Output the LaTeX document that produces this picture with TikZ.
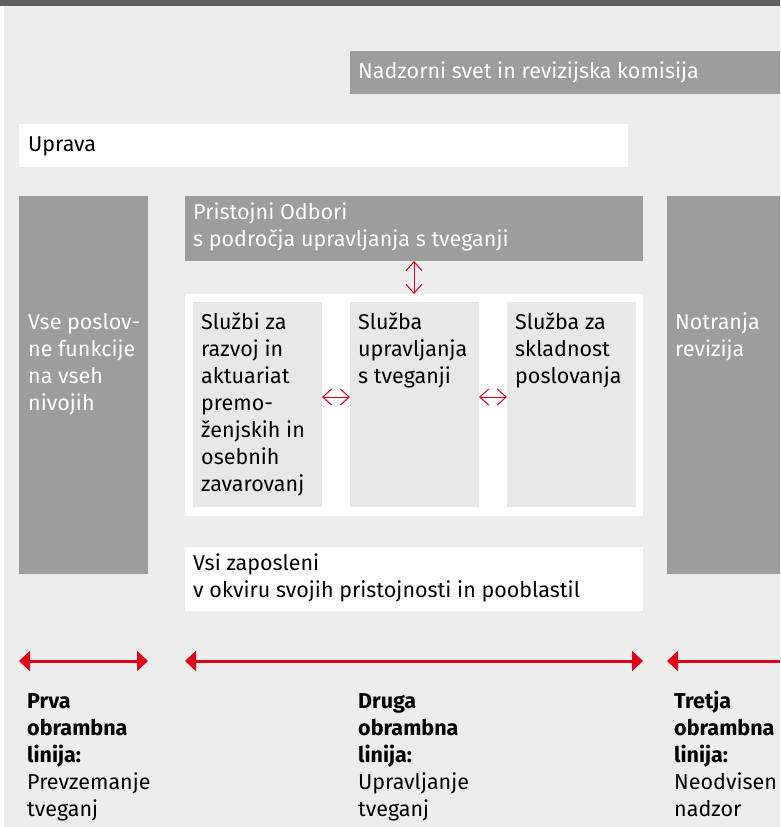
\documentclass[tikz,border=0pt]{standalone}
\usepackage{fontspec}
\setmainfont{Fira Sans}
\usetikzlibrary{arrows.meta}
\definecolor{Topcol}{HTML}{606060}
\definecolor{Bgcol}{HTML}{EDEDED}
\definecolor{Boxcol}{HTML}{9D9D9D}
\definecolor{Innercol}{HTML}{E8E8E8}
\definecolor{Arrcol}{HTML}{E2001A}
\tikzset{
    box/.style={anchor=north west, inner sep=0pt, outer sep=0pt, draw=none},
    graybox/.style={box, fill=Boxcol},
    whitebox/.style={box, fill=white},
    lightbox/.style={box, fill=Innercol},
    % base anchor = baseline of the last line
    txt/.style={anchor=base west, inner sep=0pt, align=left,
        font=\fontsize{21.5}{27}\selectfont},
    wtxt/.style={txt, text=white},
    thickarrow/.style={Arrcol, line width=3pt, {Triangle[length=11pt,width=20pt]}-{Triangle[length=11pt,width=20pt]}},
    thinarrow/.style={Arrcol, line width=1pt, {Straight Barb[length=9pt,width=16pt]}-{Straight Barb[length=9pt,width=16pt]}}
}

\begin{document}
\begin{tikzpicture}[x=1pt, y=-1pt]
    \useasboundingbox (0,0) rectangle (780,827);
    \fill [white] (0,0) rectangle (780,827);
    \fill [Bgcol] (4,6) rectangle (780,827);
    \fill [Topcol] (0,0) rectangle (780,6);

    % boxes
    \node [graybox, minimum width=430pt, minimum height=43pt] (nadzor) at (350,51) {};
    \node [whitebox, minimum width=609pt, minimum height=43pt] (uprava) at (19,124) {};
    \node [graybox, minimum width=129pt, minimum height=378pt] (prva) at (19,196) {};
    \node [graybox, minimum width=458pt, minimum height=65pt] (odbori) at (185,196) {};
    \node [whitebox, minimum width=458pt, minimum height=222pt] (panel) at (185,294) {};
    \node [lightbox, minimum width=129pt, minimum height=205pt] (razvoj) at (193,302) {};
    \node [lightbox, minimum width=129pt, minimum height=205pt] (tveg) at (350,302) {};
    \node [lightbox, minimum width=129pt, minimum height=205pt] (sklad) at (507,302) {};
    \node [whitebox, minimum width=458pt, minimum height=64pt] (vsi) at (185,547) {};
    \node [graybox, minimum width=113pt, minimum height=378pt] (notranja) at (667,196) {};

    % texts
    \node [wtxt] (nadzor-t) at (358,78) {Nadzorni svet in revizijska komisija};
    \node [txt] (uprava-t) at (28,151) {Uprava};
    \node [wtxt] (prva-t) at (28,410) {Vse poslov-\\ne funkcije\\na vseh\\nivojih};
    \node [wtxt] (odbori-t) at (193,246) {Pristojni Odbori\\s področja upravljanja s tveganji};
    \node [txt] (razvoj-t) at (201,491) {Službi za\\razvoj in\\aktuariat\\premo-\\ženjskih in\\osebnih\\zavarovanj};
    \node [txt] (tveg-t) at (358,383) {Služba\\upravljanja\\s tveganji};
    \node [txt] (sklad-t) at (515,383) {Služba za\\skladnost\\poslovanja};
    \node [wtxt] (notranja-t) at (675,356) {Notranja\\revizija};
    \node [txt] (vsi-t) at (193,597) {Vsi zaposleni\\v okviru svojih pristojnosti in pooblastil};

    % lines of defence
    \node [txt] (linija1) at (27,816) {\textbf{Prva}\\\textbf{obrambna}\\\textbf{linija:}\\Prevzemanje\\tveganj};
    \node [txt] (linija2) at (358,816) {\textbf{Druga}\\\textbf{obrambna}\\\textbf{linija:}\\Upravljanje\\tveganj};
    \node [txt] (linija3) at (674,816) {\textbf{Tretja}\\\textbf{obrambna}\\\textbf{linija:}\\Neodvisen\\nadzor};

    % arrows
    \coordinate (midrow) at (0,397);
    \coordinate (arrrow) at (0,661);
    \coordinate (rightedge) at (780,661);
    \draw [thinarrow] (odbori.south) -- (panel.north);
    \draw [thinarrow] (razvoj.east |- midrow) -- (tveg.west |- midrow);
    \draw [thinarrow] (tveg.east |- midrow) -- (sklad.west |- midrow);
    \draw [thickarrow] (prva.west |- arrrow) -- (prva.east |- arrrow);
    \draw [thickarrow] (panel.west |- arrrow) -- (panel.east |- arrrow);
    \draw [thickarrow, {Triangle[length=11pt,width=20pt]}-] (notranja.west |- arrrow) -- (rightedge);
\end{tikzpicture}
\end{document}
